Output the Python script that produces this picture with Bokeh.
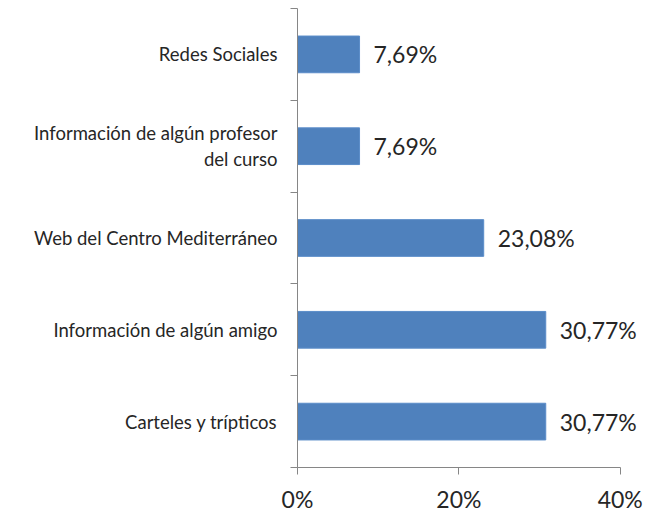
from bokeh.plotting import figure
from bokeh.models import FixedTicker, ColumnDataSource, LabelSet
from bokeh.embed import file_html
from bokeh.resources import INLINE
from bokeh.core.properties import value

categories = ["Carteles y trípticos", "Información de algún amigo", "Web del Centro Mediterráneo",
              "Información de algún profesor\ndel curso", "Redes Sociales"]
values = [30.77, 30.77, 23.08, 7.69, 7.69]
x_ticks = [0, 20, 40]
x_tick_labels = ["0%", "20%", "40%"]

FONT = "Lato"
n = len(categories)
ypos = [i + 0.5 for i in range(n)]
labels = [f"{v:.2f}".replace(".", ",") + "%" for v in values]
src = ColumnDataSource(dict(y=ypos, v=values, lab=labels))

p = figure(width=652, height=512, output_backend="svg", toolbar_location=None,
           x_range=(0, 44), y_range=(0, n),
           frame_width=355, frame_height=459,
           min_border_left=297, min_border_right=0, min_border_top=8, min_border_bottom=45)
p.outline_line_color = None
p.xgrid.visible = False
p.ygrid.visible = False
p.background_fill_color = "white"
p.border_fill_color = "white"

p.hbar(y="y", right="v", left=0, height=0.4, source=src,
       fill_color="#4F81BD", line_color="#5B8DC9", line_width=1)
p.add_layout(LabelSet(x="v", y="y", text="lab", source=src, x_offset=14,
                      text_font=value(FONT), text_font_size="23px", text_color="#262626",
                      text_baseline="middle", text_align="left"))

# y axis: labels at category centers, tick marks between categories
ya = p.yaxis[0]
ya.ticker = FixedTicker(ticks=ypos, minor_ticks=list(range(n + 1)))
ya.major_label_overrides = {y: c for y, c in zip(ypos, categories)}
ya.major_tick_line_color = None
ya.major_tick_out = 0
ya.major_tick_in = 0
ya.minor_tick_out = 7
ya.minor_tick_in = 0
ya.minor_tick_line_color = "#868686"
ya.axis_line_color = "#868686"
ya.major_label_standoff = 13
ya.major_label_text_font = FONT
ya.major_label_text_font_size = "18.5px"
ya.major_label_text_color = "#262626"

xa = p.xaxis[0]
xa.ticker = FixedTicker(ticks=x_ticks)
xa.bounds = (0, 40)
xa.major_label_overrides = {t: l for t, l in zip(x_ticks, x_tick_labels)}
xa.minor_tick_line_color = None
xa.major_tick_out = 7
xa.major_tick_in = 0
xa.major_tick_line_color = "#868686"
xa.axis_line_color = "#868686"
xa.major_label_standoff = 10
xa.major_label_text_font = FONT
xa.major_label_text_font_size = "23px"
xa.major_label_text_color = "#262626"

open("out.html", "w").write(file_html(p, INLINE))
